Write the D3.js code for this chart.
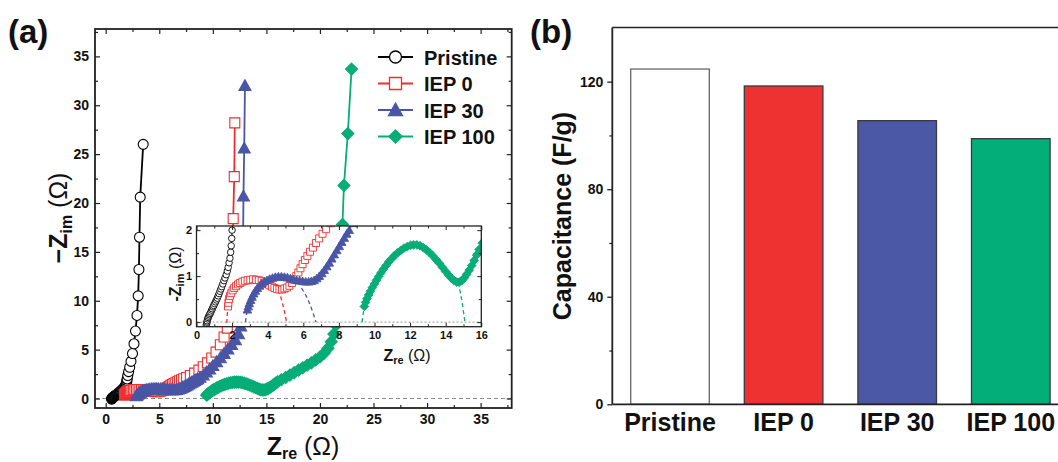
<!DOCTYPE html>
<html>
<head>
<meta charset="utf-8">
<script src="https://cdn.jsdelivr.net/npm/d3@7"></script>
<style>
  body { margin: 0; background: #fff; }
  svg { display: block; font-family: Arial, "Liberation Sans", sans-serif; }
</style>
</head>
<body>
<svg id="chart" width="1058" height="462"></svg>
<script>
// ---- data: Nyquist plots (Z_re, -Z_im) in ohm ----
const pristine = [[0.55,-0.06],[0.57,-0.03],[0.59,0.0],[0.6,0.03],[0.63,0.07],[0.66,0.1],[0.69,0.13],[0.73,0.16],[0.77,0.19],[0.81,0.22],[0.85,0.26],[0.89,0.29],[0.93,0.33],[0.97,0.36],[1.02,0.4],[1.07,0.44],[1.12,0.48],[1.17,0.52],[1.22,0.57],[1.27,0.62],[1.32,0.67],[1.37,0.72],[1.42,0.77],[1.48,0.83],[1.54,0.9],[1.6,0.96],[1.67,1.03],[1.73,1.11],[1.78,1.19],[1.83,1.29],[1.88,1.39],[1.92,1.52],[1.95,1.66],[1.98,1.82],[2.0,2.0],[2.06,2.35],[2.14,2.75],[2.24,3.2],[2.36,3.8],[2.5,4.6],[2.64,5.6],[2.78,6.9],[2.92,8.5],[3.03,10.5],[3.1,13.2],[3.15,16.5],[3.22,20.6],[3.5,26.0]];
const iep0 = [[1.77,0.34],[1.79,0.42],[1.83,0.5],[1.88,0.57],[1.95,0.63],[2.03,0.69],[2.12,0.74],[2.22,0.78],[2.33,0.82],[2.45,0.85],[2.58,0.88],[2.72,0.9],[2.87,0.91],[3.02,0.92],[3.18,0.93],[3.34,0.92],[3.5,0.91],[3.66,0.89],[3.81,0.86],[3.96,0.83],[4.1,0.8],[4.24,0.77],[4.38,0.74],[4.52,0.72],[4.66,0.71],[4.8,0.71],[4.94,0.73],[5.08,0.75],[5.22,0.79],[5.36,0.85],[5.48,0.92],[5.6,1.0],[5.72,1.08],[5.84,1.17],[5.96,1.26],[6.09,1.35],[6.23,1.44],[6.38,1.53],[6.54,1.62],[6.71,1.72],[6.89,1.82],[7.08,1.92],[7.28,2.02],[7.55,2.15],[7.9,2.35],[8.3,2.6],[8.7,2.9],[9.1,3.25],[9.5,3.65],[9.9,4.15],[10.3,4.75],[10.7,5.5],[11.05,6.3],[11.35,7.2],[11.6,8.3],[11.75,10.0],[11.82,12.5],[11.86,15.5],[11.9,18.4],[12.0,22.7],[12.05,28.2]];
const iep30 = [[2.86,0.27],[2.91,0.34],[2.97,0.41],[3.04,0.48],[3.12,0.55],[3.21,0.62],[3.31,0.68],[3.42,0.74],[3.54,0.79],[3.67,0.84],[3.81,0.88],[3.96,0.91],[4.11,0.94],[4.27,0.96],[4.43,0.98],[4.6,0.99],[4.77,0.99],[4.94,0.98],[5.11,0.97],[5.28,0.95],[5.45,0.93],[5.62,0.91],[5.79,0.9],[5.96,0.89],[6.13,0.88],[6.3,0.88],[6.46,0.89],[6.61,0.91],[6.76,0.95],[6.9,1.0],[7.04,1.06],[7.18,1.13],[7.32,1.21],[7.46,1.29],[7.6,1.38],[7.74,1.47],[7.88,1.56],[8.02,1.65],[8.16,1.74],[8.3,1.83],[8.44,1.92],[8.58,2.0],[8.8,2.15],[9.1,2.4],[9.4,2.7],[9.7,3.0],[10.0,3.35],[10.35,3.75],[10.7,4.15],[11.05,4.6],[11.4,5.05],[11.75,5.5],[12.1,6.0],[12.4,6.6],[12.6,7.4],[12.72,9.0],[12.78,12.0],[12.82,16.0],[12.86,20.7],[12.93,25.6],[13.0,32.0]];
const iep100 = [[9.43,0.34],[9.5,0.43],[9.58,0.51],[9.67,0.59],[9.77,0.67],[9.88,0.75],[9.99,0.83],[10.11,0.91],[10.23,0.99],[10.36,1.07],[10.5,1.15],[10.65,1.23],[10.8,1.31],[10.96,1.38],[11.13,1.45],[11.3,1.51],[11.48,1.56],[11.66,1.61],[11.84,1.64],[12.02,1.67],[12.2,1.68],[12.38,1.68],[12.56,1.66],[12.74,1.62],[12.92,1.57],[13.1,1.51],[13.28,1.44],[13.46,1.36],[13.64,1.28],[13.82,1.19],[14.0,1.1],[14.17,1.02],[14.33,0.95],[14.48,0.9],[14.62,0.87],[14.76,0.87],[14.9,0.9],[15.04,0.96],[15.18,1.04],[15.32,1.13],[15.46,1.23],[15.6,1.34],[15.74,1.46],[15.88,1.58],[16.05,1.72],[16.4,1.92],[16.8,2.15],[17.2,2.4],[17.6,2.65],[18.0,2.9],[18.4,3.15],[18.8,3.4],[19.2,3.65],[19.6,3.95],[20.0,4.25],[20.4,4.65],[20.75,5.15],[21.05,5.8],[21.3,6.6],[21.5,7.5],[21.7,9.5],[21.85,12.5],[21.98,15.5],[22.1,17.8],[22.24,21.8],[22.6,27.1],[22.95,33.7]];

// dashed semicircle tails in the inset
const iep0FitLeft = [[1.7,-0.02],[1.72,0.12],[1.77,0.34]];
const iep0FitRight = [[4.6,0.7],[4.73,0.55],[4.85,0.38],[4.96,0.2],[5.06,0.0]];
const iep30FitLeft = [[2.75,0.0],[2.8,0.14],[2.86,0.27]];
const iep30FitRight = [[5.9,0.74],[6.15,0.58],[6.36,0.4],[6.55,0.2],[6.71,0.0]];
const iep100FitLeft = [[9.3,0.0],[9.36,0.17],[9.43,0.34]];
const iep100FitRight = [[14.7,0.86],[14.82,0.65],[14.92,0.44],[15.0,0.22],[15.08,0.0]];

const seriesNames = ["Pristine", "IEP 0", "IEP 30", "IEP 100"];
const mainXTicks = [0, 5, 10, 15, 20, 25, 30, 35];
const mainYTicks = [0, 5, 10, 15, 20, 25, 30, 35];
const insetXTicks = [0, 2, 4, 6, 8, 10, 12, 14, 16];
const insetYTicks = [0, 1, 2];

// ---- data: capacitance ----
const capCategories = ["Pristine", "IEP 0", "IEP 30", "IEP 100"];
const capValues = [124.7, 118.4, 105.5, 98.8];
const capTicks = [0, 40, 80, 120];
const capMinorTicks = [20, 60, 100];

// ---- styles ----
const RED = "#ED2E2E", BLUE = "#4A56A5", GREEN = "#07AD76";
const seriesStyle = [
    {color: "#000", shape: "circle", fill: "#fff"},
    {color: RED, shape: "square", fill: "#fff"},
    {color: BLUE, shape: "triangle", fill: BLUE},
    {color: GREEN, shape: "diamond", fill: GREEN}
];
const seriesData = [pristine, iep0, iep30, iep100];
const fits = [[iep0FitLeft, RED], [iep0FitRight, RED], [iep30FitLeft, BLUE], [iep30FitRight, BLUE], [iep100FitLeft, GREEN], [iep100FitRight, GREEN]];
const capColors = ["#FFFFFF", "#EE3131", "#4A58A6", "#04AE78"];

function markerPath(shape, s) {
    const h = s / 2;
    if (shape === "circle") return `M${-h},0a${h},${h} 0 1,0 ${s},0a${h},${h} 0 1,0 ${-s},0Z`;
    if (shape === "square") return `M${-h},${-h}h${s}v${s}h${-s}Z`;
    if (shape === "triangle") return `M0,${-s * 0.5}L${h},${s * 0.4}L${-h},${s * 0.4}Z`;
    return `M0,${-h * 1.1}L${h * 1.1},0L0,${h * 1.1}L${-h * 1.1},0Z`;
}

const svg = d3.select("#chart");

// inward ticks on all four sides of a framed plot
function frameAxes(g, x, y, opt) {
    const [x0, x1] = x.range(), [y0, y1] = y.range();
    const xMinor = d3.range(opt.xMinorStart, x.domain()[1], opt.xMinorStep);
    const yMinor = d3.range(opt.yMinorStart, y.domain()[1], opt.yMinorStep);
    const parts = [
        [d3.axisBottom(x).tickValues(opt.xTicks), `translate(0,${y0})`, true],
        [d3.axisTop(x).tickValues(opt.xTicks), `translate(0,${y1})`, false],
        [d3.axisLeft(y).tickValues(opt.yTicks), `translate(${x0},0)`, true],
        [d3.axisRight(y).tickValues(opt.yTicks), `translate(${x1},0)`, false]
    ];
    parts.forEach(([ax, tr, labels]) => {
        const a = g.append("g").attr("transform", tr)
            .call(ax.tickSize(-opt.major).tickPadding(opt.pad).tickFormat(labels ? d3.format("d") : ""));
        a.select(".domain").remove();
        a.selectAll("line").attr("stroke", "#222").attr("stroke-width", opt.tickWidth);
        a.selectAll("text").attr("fill", "#111").style("font-size", opt.font + "px").style("font-weight", "bold");
    });
    const minorParts = [
        [d3.axisBottom(x).tickValues(xMinor), `translate(0,${y0})`],
        [d3.axisTop(x).tickValues(xMinor), `translate(0,${y1})`],
        [d3.axisLeft(y).tickValues(yMinor), `translate(${x0},0)`],
        [d3.axisRight(y).tickValues(yMinor), `translate(${x1},0)`]
    ];
    minorParts.forEach(([ax, tr]) => {
        const a = g.append("g").attr("transform", tr).call(ax.tickSize(-opt.minor).tickFormat(""));
        a.select(".domain").remove();
        a.selectAll("line").attr("stroke", "#222").attr("stroke-width", opt.tickWidth);
    });
    g.append("rect").attr("x", x0).attr("y", y1).attr("width", x1 - x0).attr("height", y0 - y1)
        .attr("fill", "none").attr("stroke", "#222").attr("stroke-width", opt.frameWidth);
}

function drawSeries(g, x, y, sizes) {
    const line = d3.line().x(d => x(d[0])).y(d => y(d[1]));
    seriesData.forEach((data, i) => {
        const st = seriesStyle[i];
        g.append("path").datum(data).attr("d", line)
            .attr("fill", "none").attr("stroke", st.color).attr("stroke-width", sizes.line);
        g.selectAll(null).data(data).enter().append("path")
            .attr("transform", d => `translate(${x(d[0])},${y(d[1])})`)
            .attr("d", markerPath(st.shape, sizes[st.shape]))
            .attr("fill", st.fill).attr("stroke", st.color).attr("stroke-width", sizes.stroke);
    });
}

// ================= panel (a) =================
const xMain = d3.scaleLinear().domain([-1, 37.9]).range([95, 511.7]);
const yMain = d3.scaleLinear().domain([-0.97, 37.8]).range([408, 29]);

svg.append("clipPath").attr("id", "clipMain").append("rect")
    .attr("x", 95).attr("y", 29).attr("width", 416.7).attr("height", 379);

const mainPlot = svg.append("g").attr("clip-path", "url(#clipMain)");
mainPlot.append("line")
    .attr("x1", xMain.range()[0]).attr("x2", xMain.range()[1])
    .attr("y1", yMain(0)).attr("y2", yMain(0))
    .attr("stroke", "#888").attr("stroke-width", 1).attr("stroke-dasharray", "4,3");
drawSeries(mainPlot, xMain, yMain, {line: 1.8, stroke: 1.1, circle: 10, square: 10, triangle: 12, diamond: 11});

frameAxes(svg.append("g"), xMain, yMain, {
    xTicks: mainXTicks, yTicks: mainYTicks, xMinorStart: 2.5, xMinorStep: 5, yMinorStart: 2.5, yMinorStep: 5,
    major: 5, minor: 3, pad: 6, font: 14, tickWidth: 1.2, frameWidth: 1.8
});

// legend
const legend = svg.append("g");
seriesNames.forEach((name, i) => {
    const st = seriesStyle[i];
    const cy = 57 + i * 26.5;
    legend.append("line").attr("x1", 378).attr("x2", 413).attr("y1", cy).attr("y2", cy)
        .attr("stroke", st.color).attr("stroke-width", 2);
    legend.append("path").attr("transform", `translate(395.5,${cy})`)
        .attr("d", markerPath(st.shape, st.shape === "triangle" ? 14 : 12))
        .attr("fill", st.fill).attr("stroke", st.color).attr("stroke-width", 1.3);
    legend.append("text").attr("x", 424).attr("y", cy + 7.5)
        .style("font-size", "20px").style("font-weight", "bold").attr("fill", "#111").text(name);
});

// axis titles
const yTitle = svg.append("text").attr("transform", "translate(67,218) rotate(-90)")
    .attr("text-anchor", "middle").attr("fill", "#111").style("font-size", "25px").style("font-weight", "bold");
yTitle.append("tspan").text("\u2212Z");
yTitle.append("tspan").attr("dy", 5).style("font-size", "16px").text("im");
yTitle.append("tspan").attr("dy", -5).style("font-weight", "normal").text(" (\u03A9)");

const xTitle = svg.append("text").attr("x", 303).attr("y", 455)
    .attr("text-anchor", "middle").attr("fill", "#111").style("font-size", "25px").style("font-weight", "bold");
xTitle.append("tspan").text("Z");
xTitle.append("tspan").attr("dy", 4).style("font-size", "16px").text("re");
xTitle.append("tspan").attr("dy", -4).style("font-weight", "normal").text(" (\u03A9)");

svg.append("text").attr("x", 8).attr("y", 43).style("font-size", "33px").style("font-weight", "bold")
    .attr("fill", "#111").text("(a)");

// ---- inset ----
const xIn = d3.scaleLinear().domain([0, 16]).range([196.5, 481.3]);
const yIn = d3.scaleLinear().domain([-0.1, 2.09]).range([326.7, 226]);

svg.append("rect").attr("x", 196.5).attr("y", 226).attr("width", 284.8).attr("height", 100.7).attr("fill", "#fff");
svg.append("clipPath").attr("id", "clipInset").append("rect")
    .attr("x", 196.5).attr("y", 226).attr("width", 284.8).attr("height", 100.7);
const insetPlot = svg.append("g").attr("clip-path", "url(#clipInset)");
insetPlot.append("line")
    .attr("x1", xIn.range()[0]).attr("x2", xIn.range()[1])
    .attr("y1", yIn(0)).attr("y2", yIn(0))
    .attr("stroke", "#999").attr("stroke-width", 1).attr("stroke-dasharray", "2,2");
fits.forEach(([pts, color]) => {
    insetPlot.append("path").datum(pts).attr("d", d3.line().x(d => xIn(d[0])).y(d => yIn(d[1])))
        .attr("fill", "none").attr("stroke", color).attr("stroke-width", 1.3).attr("stroke-dasharray", "4,3");
});
drawSeries(insetPlot, xIn, yIn, {line: 1, stroke: 0.9, circle: 6.5, square: 7, triangle: 8.5, diamond: 8});

frameAxes(svg.append("g"), xIn, yIn, {
    xTicks: insetXTicks, yTicks: insetYTicks, xMinorStart: 1, xMinorStep: 2, yMinorStart: 0.5, yMinorStep: 1,
    major: 4, minor: 2.5, pad: 4.5, font: 11, tickWidth: 1, frameWidth: 1.3
});

const yInTitle = svg.append("text").attr("transform", "translate(181,274) rotate(-90)")
    .attr("text-anchor", "middle").attr("fill", "#111").style("font-size", "16px").style("font-weight", "bold");
yInTitle.append("tspan").text("-Z");
yInTitle.append("tspan").attr("dy", 3).style("font-size", "11px").text("im");
yInTitle.append("tspan").attr("dy", -3).style("font-weight", "normal").text(" (\u03A9)");

const xInTitle = svg.append("text").attr("x", 407).attr("y", 360.7)
    .attr("text-anchor", "middle").attr("fill", "#111").style("font-size", "16px").style("font-weight", "bold");
xInTitle.append("tspan").text("Z");
xInTitle.append("tspan").attr("dy", 3).style("font-size", "11px").text("re");
xInTitle.append("tspan").attr("dy", -3).style("font-weight", "normal").text(" (\u03A9)");

// ================= panel (b) =================
const xb = d3.scaleBand().domain(capCategories).range([612.3, 1068.5]).paddingInner(0.308).paddingOuter(0.162);
const yb = d3.scaleLinear().domain([0, 140]).range([404.3, 27.9]);

svg.selectAll(".bar").data(capValues).enter().append("rect")
    .attr("class", "bar")
    .attr("x", (d, i) => xb(capCategories[i]))
    .attr("y", d => yb(d))
    .attr("width", xb.bandwidth())
    .attr("height", d => yb(0) - yb(d))
    .attr("fill", (d, i) => capColors[i])
    .attr("stroke", (d, i) => i === 0 ? "#666" : "#3a3a3a")
    .attr("stroke-width", 1.3);

svg.append("line").attr("x1", 612.3).attr("x2", 1058).attr("y1", 27.6).attr("y2", 27.6)
    .attr("stroke", "#222").attr("stroke-width", 1.5);

const ybAxis = svg.append("g").attr("transform", "translate(612.3,0)")
    .call(d3.axisLeft(yb).tickValues(capTicks).tickSize(5).tickPadding(4));
ybAxis.select(".domain").attr("d", `M0,${yb(0)}V27.6`).attr("stroke", "#222").attr("stroke-width", 1.8);
ybAxis.selectAll("line").attr("stroke", "#222").attr("stroke-width", 1.3);
ybAxis.selectAll("text").attr("fill", "#111").style("font-size", "14px").style("font-weight", "bold");
const ybMinor = svg.append("g").attr("transform", "translate(612.3,0)")
    .call(d3.axisLeft(yb).tickValues(capMinorTicks).tickSize(3).tickFormat(""));
ybMinor.select(".domain").remove();
ybMinor.selectAll("line").attr("stroke", "#222").attr("stroke-width", 1.2);

const xbAxis = svg.append("g").attr("transform", `translate(0,${yb(0)})`)
    .call(d3.axisBottom(xb).tickSize(0).tickPadding(9));
xbAxis.select(".domain").attr("d", "M612.3,0H1058").attr("stroke", "#222").attr("stroke-width", 1.8);
xbAxis.selectAll("text").attr("fill", "#111").style("font-size", "25px").style("font-weight", "bold");

svg.append("text").attr("transform", "translate(571,216) rotate(-90)")
    .attr("text-anchor", "middle").attr("fill", "#111")
    .style("font-size", "25px").style("font-weight", "bold").text("Capacitance (F/g)");

svg.append("text").attr("x", 530).attr("y", 43).style("font-size", "33px").style("font-weight", "bold")
    .attr("fill", "#111").text("(b)");
</script>
</body>
</html>
